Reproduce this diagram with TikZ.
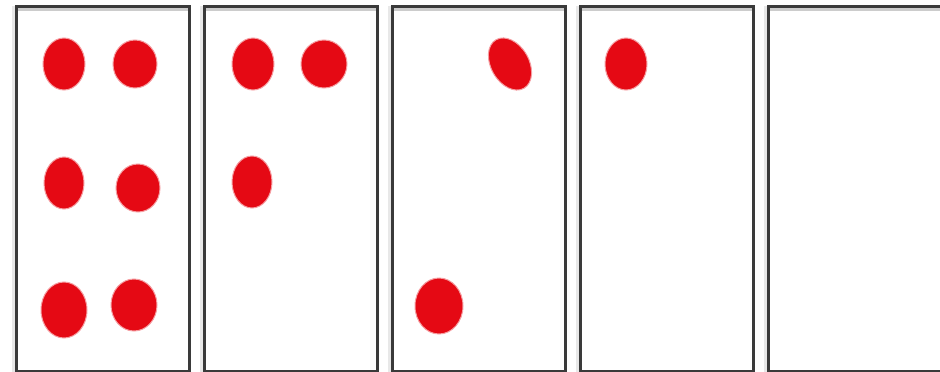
\documentclass[tikz,border=0pt]{standalone}
\usetikzlibrary{calc}

\definecolor{dotred}{HTML}{E50914}
\definecolor{framegray}{HTML}{3A3A3A}
\definecolor{shadegray}{HTML}{CCCCCC}
\definecolor{edgegray}{HTML}{E8E8E8}

\begin{document}
\begin{tikzpicture}[x=1pt, y=-1pt,
    panel/.style={line width=3pt, draw=framegray},
    dot/.style={fill=dotred, draw=dotred!40, line width=1pt}]
    \useasboundingbox (0,0) rectangle (940,372);

    % Draw the five panels
    \foreach \i in {0,...,4} {
        \coordinate (P\i) at ({16+188*\i},6);
        \fill[edgegray] ($(P\i)+(-4,0)$) rectangle ($(P\i)+(-1.5,366)$);
        \fill[shadegray] ($(P\i)+(1.5,1.5)$) rectangle ($(P\i)+(171.5,5)$);
        \draw[panel] (P\i) rectangle ($(P\i)+(173,365)$);
    }

    % Dots of the first panel
    \fill[dot] (64,64) ellipse [x radius=21, y radius=26];
    \fill[dot] (135,64) ellipse [x radius=22, y radius=24];
    \fill[dot] (64,183) ellipse [x radius=20, y radius=26];
    \fill[dot] (138,188) ellipse [x radius=22, y radius=24];
    \fill[dot] (64,310) ellipse [x radius=23, y radius=28];
    \fill[dot] (134,305) ellipse [x radius=23, y radius=26];

    % Dots of the second panel
    \fill[dot] (253,64) ellipse [x radius=21, y radius=26];
    \fill[dot] (324,64) ellipse [x radius=23, y radius=24];
    \fill[dot] (252,182) ellipse [x radius=20, y radius=26];

    % Dots of the third panel
    \fill[dot, rotate around={30:(510,64)}] (510,64) ellipse [x radius=19, y radius=28];
    \fill[dot] (439,306) ellipse [x radius=24, y radius=28];

    % Dot of the fourth panel
    \fill[dot] (626,64) ellipse [x radius=21, y radius=26];
\end{tikzpicture}
\end{document}
